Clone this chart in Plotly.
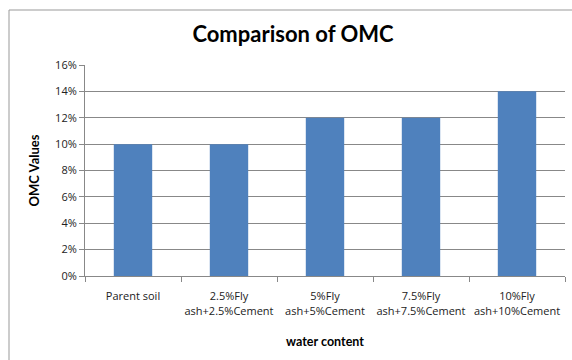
import plotly.graph_objects as go

categories = ["Parent soil", "2.5%Fly<br>ash+2.5%Cement", "5%Fly<br>ash+5%Cement",
              "7.5%Fly<br>ash+7.5%Cement", "10%Fly<br>ash+10%Cement"]
omc_values = [0.10, 0.10, 0.12, 0.12, 0.14]
y_ticks = [0, 0.02, 0.04, 0.06, 0.08, 0.10, 0.12, 0.14, 0.16]

W, H = 572, 360
L, R, T, B = 85, 7, 65, 84
pw, ph = W - L - R, H - T - B

fig = go.Figure(go.Bar(x=categories, y=omc_values, marker_color="#4F81BD",
                       marker_line_width=0, width=0.4))

tick_font = "'Open Sans', sans-serif"
bold_font = "Lato, 'Open Sans', sans-serif"
fig.update_layout(
    width=W, height=H,
    margin=dict(l=L, r=R, t=T, b=B, autoexpand=False),
    paper_bgcolor="white", plot_bgcolor="white",
    showlegend=False,
    font=dict(family=tick_font, size=11, color="#222"),
    title=dict(text="<b>Comparison of OMC</b>", x=293 / W, xanchor="center",
               y=1 - 34 / H, yanchor="middle",
               font=dict(size=22, color="black", family=bold_font)),
    xaxis=dict(
        type="category", tickson="boundaries", ticks="outside", ticklen=5,
        tickcolor="#888", showline=True, linecolor="#888", linewidth=1,
        automargin=False, ticklabelstandoff=10, tickangle=0,
        tickfont=dict(size=11, color="#222", family=tick_font),
        title=dict(text="<b>water content</b>",
                   font=dict(size=12.5, color="black", family=bold_font), standoff=20),
    ),
    yaxis=dict(
        range=[0, 0.16], tickvals=y_ticks, tickformat=".0%",
        ticks="outside", ticklen=5, tickcolor="#888",
        showline=True, linecolor="#888", linewidth=1,
        showgrid=True, gridcolor="#888", gridwidth=1,
        zeroline=False, automargin=False,
        tickfont=dict(size=11, color="#222", family=tick_font),
        title=dict(text="<b>OMC Values</b>",
                   font=dict(size=13, color="black", family=bold_font), standoff=12),
    ),
    shapes=[dict(type="rect", xref="paper", yref="paper",
                 x0=(9 - L) / pw, x1=(W + 5 - L) / pw,
                 y0=(H - B - (H + 5)) / ph, y1=(H - B - 10) / ph,
                 line=dict(color="#999", width=1), fillcolor="rgba(0,0,0,0)",
                 layer="below")],
)

fig.write_html("out.html", config={"displayModeBar": False},
               post_script="document.body.style.margin='0';document.body.style.overflow='hidden';")
